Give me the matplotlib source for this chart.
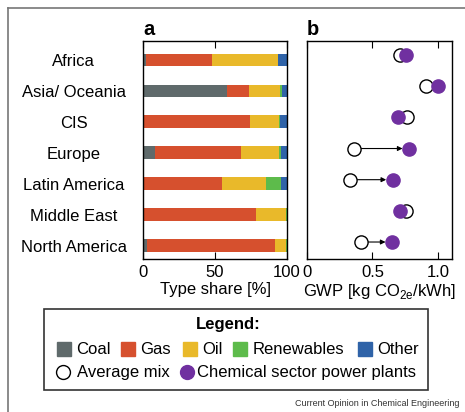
import matplotlib
matplotlib.use("Agg")
import matplotlib.pyplot as plt
from matplotlib.lines import Line2D
from matplotlib.patches import Rectangle
import numpy as np

plt.rcParams['font.family'] = ['Liberation Sans', 'DejaVu Sans']
plt.rcParams['mathtext.fontset'] = 'custom'
plt.rcParams['mathtext.rm'] = 'Liberation Sans'
plt.rcParams['font.size'] = 12

# ---------- DATA ----------
regions = ['Africa', 'Asia/ Oceania', 'CIS', 'Europe', 'Latin America',
           'Middle East', 'North America']
types = ['Coal', 'Gas', 'Oil', 'Renewables', 'Other']
colors = ['#5f6a6b', '#d6502e', '#e9b92a', '#5dbb4b', '#2f63a8']

coal = [2.0, 58.6, 0.0, 8.4, 0.0, 1.0, 2.8]
gas = [45.7, 14.7, 74.4, 60.0, 54.7, 77.6, 88.6]
oil = [46.0, 21.6, 19.8, 26.3, 30.6, 20.4, 7.6]
renewables = [0.0, 1.6, 0.7, 1.3, 10.7, 1.0, 1.0]
other = [6.3, 3.5, 5.1, 4.0, 4.0, 0.0, 0.0]

gwp_avg = [0.709, 0.906, 0.763, 0.362, 0.332, 0.755, 0.413]
gwp_chem = [0.758, 1.000, 0.696, 0.783, 0.658, 0.714, 0.653]
arrow_rows = ['Europe', 'Latin America', 'North America']

purple = '#7030a0'

# ---------- FIGURE ----------
W, H = 465, 412
fig = plt.figure(figsize=(W / 100, H / 100), dpi=100)


def fx(px):
    return px / W


def fy(py):
    return 1 - py / H


# outer frame (only top/left visible)
fig.add_artist(Line2D([fx(8), 1], [fy(8), fy(8)], color='#777777', lw=1.2))
fig.add_artist(Line2D([fx(8), fx(8)], [fy(8), 0], color='#777777', lw=1.2))

axa = fig.add_axes([fx(143), fy(259), fx(287) - fx(143), fy(41) - fy(259)])
axb = fig.add_axes([fx(307), fy(259), fx(452) - fx(307), fy(41) - fy(259)])

ypos = np.arange(len(regions))

# ---------- a: stacked bars ----------
left = np.zeros(len(regions))
for name, vals, c in zip(types, [coal, gas, oil, renewables, other], colors):
    axa.barh(ypos, vals, left=left, height=0.41, color=c, label=name)
    left += np.array(vals)

axa.set_xlim(0, 100)
axa.set_ylim(6.43, -0.61)
axa.set_xticks([0, 50, 100])
axa.set_yticks(ypos)
axa.set_yticklabels(regions, ha='center')
axa.tick_params(axis='y', length=0, pad=50)
axa.tick_params(axis='x', direction='in', top=True, length=5, pad=4)
axa.set_xlabel('Type share [%]', labelpad=2)
axa.set_title('a', loc='left', fontweight='bold', pad=4)

# ---------- b: GWP ----------
axb.plot(gwp_avg, ypos, 'o', ms=9.5, mfc='white', mec='black', mew=1.0,
         ls='none', zorder=3)
axb.plot(gwp_chem, ypos, 'o', ms=9.5, mfc=purple, mec=purple, ls='none',
         zorder=4)
for i, r in enumerate(regions):
    if r in arrow_rows:
        axb.annotate('', xy=(gwp_chem[i], i), xytext=(gwp_avg[i], i),
                     arrowprops=dict(arrowstyle='-|>', color='black', lw=0.8,
                                     shrinkA=5, shrinkB=5, mutation_scale=7),
                     zorder=2)

axb.set_xlim(0, 1.108)
axb.set_ylim(6.545, -0.45)
axb.set_xticks([0, 0.5, 1.0])
axb.set_xticklabels(['0', '0.5', '1.0'])
axb.set_yticks([])
axb.tick_params(axis='x', direction='in', top=True, length=5, pad=4)
axb.set_xlabel(r'GWP [kg CO$_{\mathrm{2e}}$/kWh]', labelpad=2)
axb.set_title('b', loc='left', fontweight='bold', pad=4)

for ax in (axa, axb):
    for s in ax.spines.values():
        s.set_linewidth(1.0)

# ---------- legend box ----------
fig.add_artist(Rectangle((fx(44), fy(390)), fx(428) - fx(44), fy(309) - fy(390),
                         fill=False, ec='#333333', lw=1.2))
fig.text(fx(228), fy(325), 'Legend:', ha='center', va='center',
         fontweight='bold', fontsize=12)

sq_x = [64, 128, 190, 240, 365]
txt_x = [76, 140, 202, 253, 377]
for name, c, sx, tx in zip(types, colors, sq_x, txt_x):
    fig.add_artist(Line2D([fx(sx)], [fy(349)], marker='s', ms=10, color=c,
                          ls='none'))
    fig.text(fx(tx), fy(349), name, ha='left', va='center', fontsize=12)

fig.add_artist(Line2D([fx(63)], [fy(372)], marker='o', ms=10, mfc='white',
                      mec='black', mew=1.0, ls='none'))
fig.text(fx(77), fy(372), 'Average mix', ha='left', va='center', fontsize=12)
fig.add_artist(Line2D([fx(187)], [fy(372)], marker='o', ms=10, mfc=purple,
                      mec=purple, ls='none'))
fig.text(fx(197), fy(372), 'Chemical sector power plants', ha='left',
         va='center', fontsize=12)

fig.text(fx(459), fy(404), 'Current Opinion in Chemical Engineering',
         ha='right', va='center', fontsize=6.5, color='#333333')

fig.savefig('out.png', dpi=100)
